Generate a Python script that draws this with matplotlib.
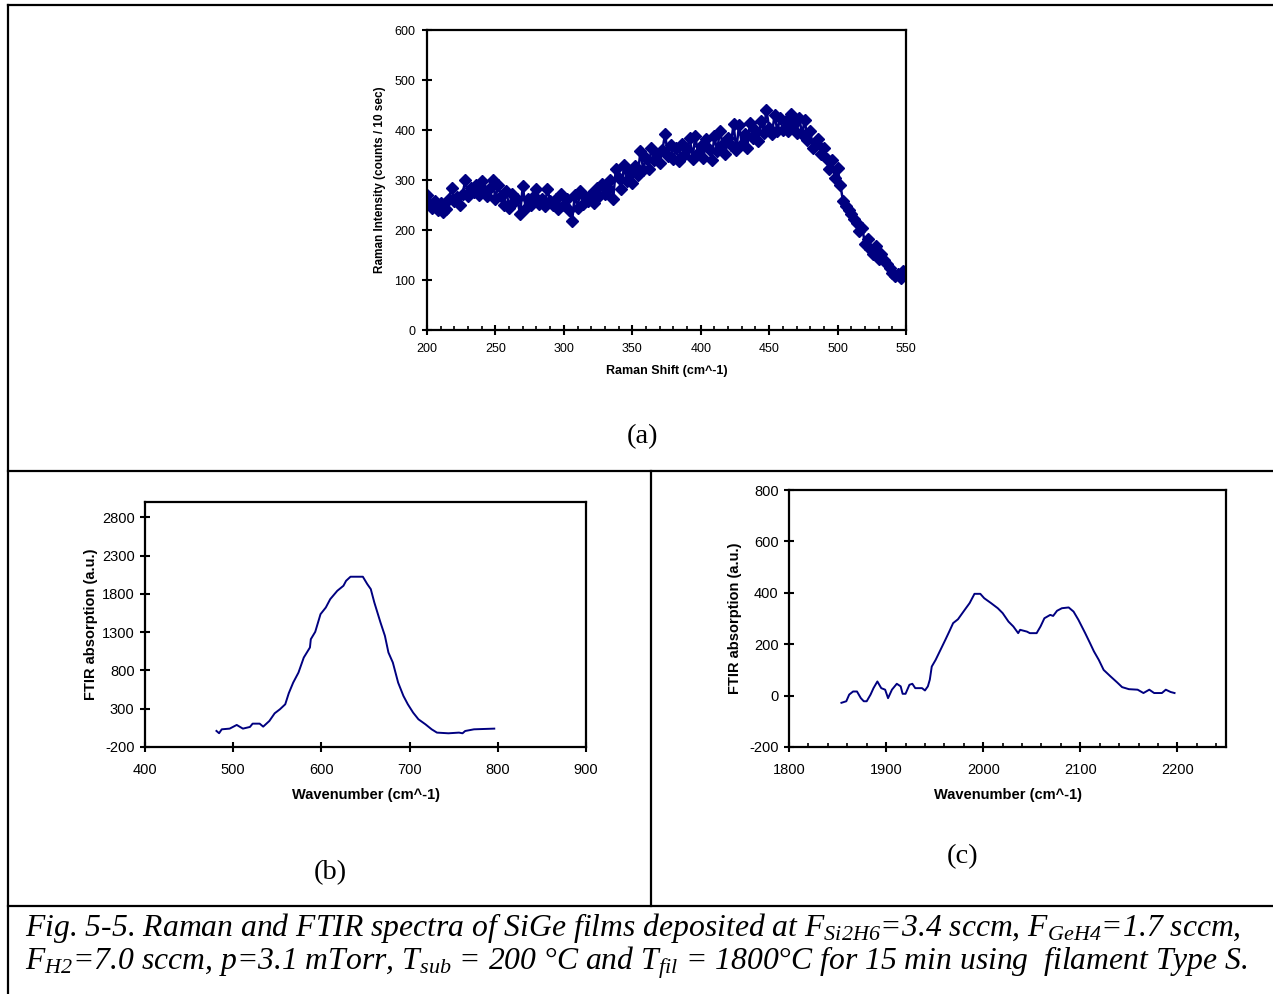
import matplotlib
matplotlib.use("Agg")
import matplotlib.pyplot as plt
from matplotlib.lines import Line2D
from matplotlib.ticker import MultipleLocator
import numpy as np

# ---------------- data ----------------
raman_shift = list(range(200, 552, 2))
raman_intensity = [
    270, 252, 245, 258, 240, 255, 236, 242, 262, 285,
    258, 266, 250, 272, 300, 268, 285, 276, 290, 270,
    298, 280, 268, 284, 300, 262, 290, 268, 250, 278,
    245, 272, 258, 262, 232, 288, 245, 262, 250, 268,
    282, 252, 262, 248, 282, 258, 250, 262, 242, 272,
    250, 262, 240, 218, 270, 245, 278, 252, 265, 258,
    272, 255, 285, 268, 292, 272, 285, 300, 262, 322,
    305, 282, 330, 298, 318, 295, 328, 310, 358, 320,
    345, 322, 365, 340, 352, 335, 360, 392, 348, 370,
    342, 365, 338, 372, 350, 362, 385, 342, 388, 355,
    368, 345, 382, 362, 340, 388, 358, 398, 372, 352,
    385, 370, 412, 360, 410, 372, 392, 365, 415, 385,
    400, 378, 418, 395, 440, 405, 392, 430, 398, 425,
    400, 418, 398, 432, 412, 395, 425, 392, 420, 380,
    398, 365, 375, 382, 352, 365, 342, 322, 340, 305,
    325, 290, 258, 248, 240, 232, 222, 215, 198, 205,
    172, 182, 162, 152, 168, 142, 152, 140, 132, 125,
    115, 108, 112, 104, 118, 110,
]

ftir_b_wavenumber = [481, 484, 487, 496, 504, 511, 519, 522, 530, 534, 541, 547,
                     553, 559, 563, 568, 574, 580, 587, 588, 593, 599, 605, 610,
                     618, 625, 628, 633, 647, 652, 656, 660, 667, 672, 676, 681,
                     687, 693, 698, 704, 710, 718, 725, 731, 744, 756, 760, 763,
                     773, 796]
ftir_b_absorption = [10, -20, 31, 40, 88, 40, 62, 105, 105, 66, 140, 240,
                     293, 358, 502, 641, 772, 968, 1100, 1208, 1304, 1535, 1622, 1731,
                     1840, 1906, 1971, 2024, 2024, 1928, 1862, 1688, 1426, 1252, 1034, 903,
                     641, 467, 358, 249, 162, 96, 31, -12, -21, -12, -21, 9,
                     31, 40]

ftir_c_wavenumber = [1854, 1859, 1862, 1866, 1870, 1874, 1877, 1880, 1884, 1887,
                     1891, 1895, 1899, 1902, 1906, 1911, 1915, 1917, 1920, 1924,
                     1927, 1930, 1937, 1940, 1943, 1945, 1947, 1951, 1956, 1961,
                     1965, 1969, 1974, 1981, 1986, 1991, 1997, 2001, 2008, 2015,
                     2020, 2026, 2031, 2036, 2038, 2045, 2048, 2055, 2059, 2063,
                     2069, 2072, 2076, 2081, 2088, 2093, 2098, 2105, 2110, 2114,
                     2119, 2124, 2131, 2138, 2143, 2150, 2159, 2165, 2171, 2176,
                     2184, 2188, 2193, 2197]
ftir_c_absorption = [-28, -22, 4, 16, 16, -10, -22, -22, 4, 29,
                     55, 29, 23, -10, 23, 46, 36, 7, 7, 42,
                     46, 29, 29, 20, 36, 62, 113, 139, 178, 217,
                     249, 282, 297, 334, 360, 396, 396, 379, 360, 340,
                     321, 288, 269, 243, 256, 249, 243, 243, 269, 301,
                     314, 310, 330, 340, 343, 327, 295, 243, 204, 172,
                     139, 100, 75, 51, 33, 25, 23, 10, 23, 10,
                     10, 23, 14, 10]

caption_line1 = ("Fig. 5-5. Raman and FTIR spectra of SiGe films deposited at "
                 "F$_{Si2H6}$=3.4 sccm, F$_{GeH4}$=1.7 sccm,")
caption_line2 = ("F$_{H2}$=7.0 sccm, p=3.1 mTorr, T$_{sub}$ = 200 \u00b0C and "
                 "T$_{fil}$ = 1800\u00b0C for 15 min using  filament Type S.")

# ---------------- style ----------------
plt.rcParams['font.family'] = ['Liberation Sans', 'DejaVu Sans']
plt.rcParams['axes.unicode_minus'] = False
plt.rcParams['mathtext.fontset'] = 'custom'
plt.rcParams['mathtext.rm'] = 'Liberation Serif:italic'
plt.rcParams['mathtext.it'] = 'Liberation Serif:italic'
plt.rcParams['mathtext.default'] = 'it'

W, H = 1273, 994
fig = plt.figure(figsize=(W / 100, H / 100), dpi=100)
NAVY = '#000080'


def add_axes_px(x0, y0, x1, y1):
    return fig.add_axes([x0 / W, 1 - y1 / H, (x1 - x0) / W, (y1 - y0) / H])


def style(ax, fs, xpad, ypad):
    for s in ax.spines.values():
        s.set_linewidth(1.6)
    ax.tick_params(which='major', direction='inout', length=7, width=1.5,
                   labelsize=fs)
    ax.tick_params(axis='x', which='major', pad=xpad)
    ax.tick_params(axis='y', which='major', pad=ypad)
    ax.tick_params(which='minor', direction='in', length=3, width=1.2)
    ax.tick_params(top=False, right=False)


# frame lines
lw_frame = 1.6
for (xs, ys) in [([8, 1273], [5, 5]), ([8, 8], [5, 994]), ([8, 1273], [471, 471]),
                 ([651, 651], [471, 906]), ([8, 1273], [906, 906])]:
    fig.add_artist(Line2D([x / W for x in xs], [1 - y / H for y in ys],
                          color='black', lw=lw_frame))

# ---- panel (a) ----
ax_a = add_axes_px(427, 30, 906, 330)
ax_a.plot(raman_shift, raman_intensity, color=NAVY, lw=1.8, marker='D',
          markersize=6, markerfacecolor=NAVY, markeredgecolor=NAVY)
ax_a.set_xlim(200, 550)
ax_a.set_ylim(0, 600)
ax_a.xaxis.set_major_locator(MultipleLocator(50))
ax_a.xaxis.set_minor_locator(MultipleLocator(10))
ax_a.yaxis.set_major_locator(MultipleLocator(100))
style(ax_a, 9, 6, 5)
ax_a.set_xlabel('Raman Shift (cm^-1)', fontsize=9, fontweight='bold', labelpad=7)
ax_a.set_ylabel('Raman Intensity (counts / 10 sec)', fontsize=8.5, fontweight='bold',
                labelpad=6)

# ---- panel (b) ----
ax_b = add_axes_px(145, 502, 586, 747)
ax_b.plot(ftir_b_wavenumber, ftir_b_absorption, color=NAVY, lw=1.4)
ax_b.set_xlim(400, 900)
ax_b.set_ylim(-200, 3000)
ax_b.set_xticks([400, 500, 600, 700, 800, 900])
ax_b.set_yticks([-200, 300, 800, 1300, 1800, 2300, 2800])
style(ax_b, 10.5, 8, 4)
ax_b.set_xlabel('Wavenumber (cm^-1)', fontsize=10.5, fontweight='bold', labelpad=8)
ax_b.set_ylabel('FTIR absorption (a.u.)', fontsize=10.5, fontweight='bold', labelpad=3)

# ---- panel (c) ----
ax_c = add_axes_px(789, 490, 1226, 747)
ax_c.plot(ftir_c_wavenumber, ftir_c_absorption, color=NAVY, lw=1.4)
ax_c.set_xlim(1800, 2250)
ax_c.set_ylim(-200, 800)
ax_c.set_xticks([1800, 1900, 2000, 2100, 2200])
ax_c.xaxis.set_minor_locator(MultipleLocator(20))
ax_c.yaxis.set_major_locator(MultipleLocator(200))
style(ax_c, 10.5, 8, 4)
ax_c.set_xlabel('Wavenumber (cm^-1)', fontsize=10.5, fontweight='bold', labelpad=8)
ax_c.set_ylabel('FTIR absorption (a.u.)', fontsize=10.5, fontweight='bold', labelpad=5)

# panel letters
for lbl, x, y in [('(a)', 643, 437), ('(b)', 330, 873), ('(c)', 963, 857)]:
    fig.text(x / W, 1 - y / H, lbl, family='Liberation Serif', fontsize=20.5,
             ha='center', va='center')

# caption
fig.text(25 / W, 1 - 928 / H, caption_line1, family='Liberation Serif',
         style='italic', fontsize=22.8, ha='left', va='center')
fig.text(25 / W, 1 - 963 / H, caption_line2, family='Liberation Serif',
         style='italic', fontsize=22.8, ha='left', va='center')

fig.savefig('out.png', dpi=100)
